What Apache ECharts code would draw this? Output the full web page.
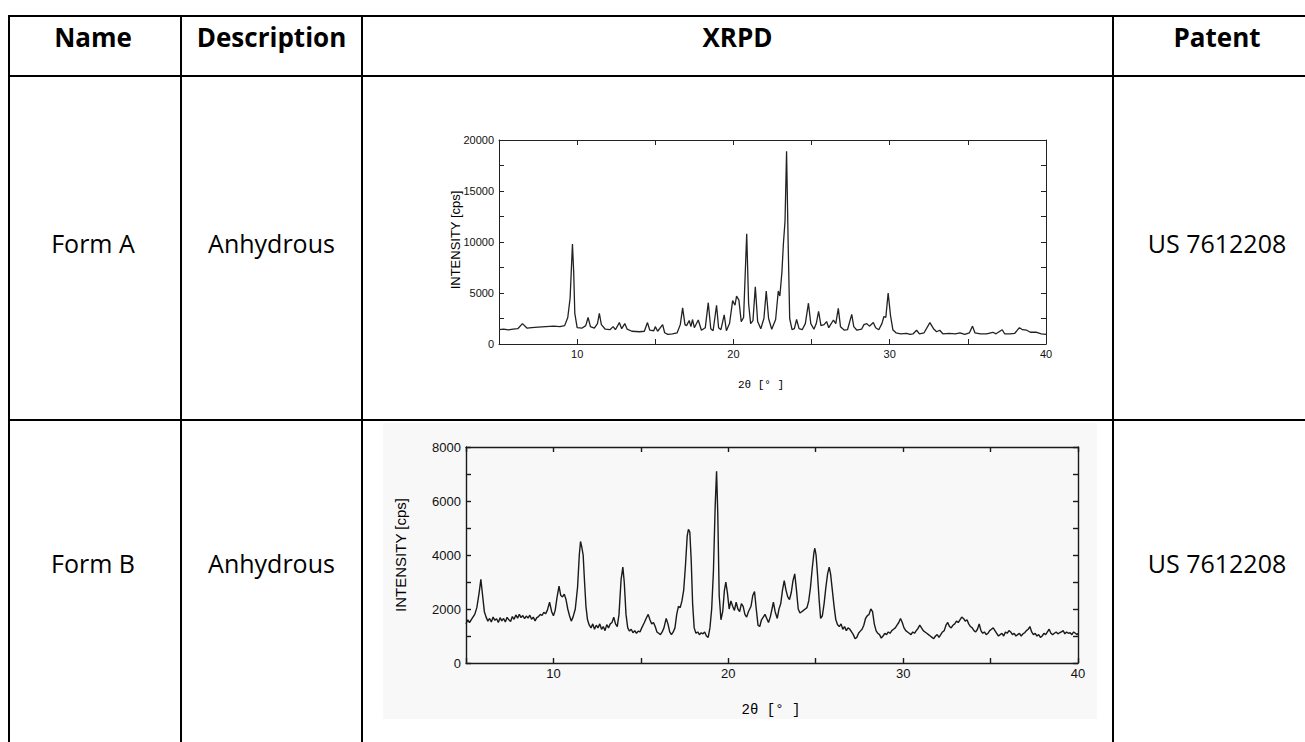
<!DOCTYPE html>
<html>
<head>
<meta charset="utf-8">
<style>
  html, body { margin: 0; padding: 0; background: #fff; }
  #chart { width: 1305px; height: 742px; }
</style>
<script src="https://cdn.jsdelivr.net/npm/echarts@6/dist/echarts.min.js"></script>
</head>
<body>
<div id="chart"></div>
<script>
// table content
const headers = ['Name', 'Description', 'XRPD', 'Patent']
const formNames = ['Form A', 'Form B']
const descriptions = ['Anhydrous', 'Anhydrous']
const patents = ['US 7612208', 'US 7612208']

// tick labels of the two scans
const twoThetaTicks = [10, 20, 30, 40]
const formAIntensityTicks = [0, 5000, 10000, 15000, 20000]
const formBIntensityTicks = [0, 2000, 4000, 6000, 8000]

// Form A pattern, [2theta, cps]
const formA = [
  [5.0, 1400], [5.3, 1450], [5.6, 1380], [5.9, 1450], [6.2, 1500], [6.5, 2000], [6.8, 1550],
  [7.1, 1600], [7.5, 1650], [8.0, 1700], [8.5, 1750], [8.9, 1700], [9.2, 1800], [9.4, 2600],
  [9.55, 4500], [9.7, 9800], [9.78, 7000], [9.85, 3000], [10.0, 1600], [10.3, 1550], [10.55, 1800],
  [10.7, 2600], [10.85, 1700], [11.1, 1550], [11.3, 2000], [11.42, 3000], [11.55, 1900], [11.8, 1450],
  [12.1, 1400], [12.3, 1700], [12.45, 1400], [12.7, 2100], [12.85, 1500], [13.05, 2000], [13.2, 1450],
  [13.5, 1250], [14.0, 1200], [14.3, 1250], [14.5, 2100], [14.65, 1350], [14.9, 1300], [15.0, 1700],
  [15.15, 1250], [15.47, 1900], [15.6, 1100], [15.8, 950], [16.1, 1000], [16.4, 1100], [16.6, 1900],
  [16.75, 3550], [16.9, 1900], [17.0, 1800], [17.17, 2300], [17.28, 1700], [17.38, 2400], [17.5, 1600],
  [17.75, 2350], [17.95, 1350], [18.2, 1600], [18.39, 4050], [18.55, 1500], [18.7, 1300], [18.92, 3800],
  [19.05, 1600], [19.2, 1400], [19.41, 2850], [19.55, 1300], [19.75, 2000], [19.95, 4250], [20.1, 3800],
  [20.2, 4700], [20.35, 4300], [20.5, 2200], [20.65, 2600], [20.85, 10800], [20.97, 4000], [21.1, 2000],
  [21.25, 2300], [21.4, 5600], [21.55, 2200], [21.75, 1500], [21.95, 2500], [22.1, 5200], [22.25, 2500],
  [22.45, 1450], [22.7, 2400], [22.87, 5200], [22.97, 4700], [23.1, 7000], [23.2, 9900], [23.3, 12000],
  [23.4, 18900], [23.5, 10000], [23.6, 2500], [23.75, 1400], [23.9, 1500], [24.04, 2400], [24.2, 1500],
  [24.4, 1400], [24.6, 2000], [24.8, 4000], [24.95, 2000], [25.15, 1450], [25.3, 2000], [25.45, 3200],
  [25.6, 1800], [25.8, 1900], [25.96, 2200], [26.1, 1600], [26.4, 2350], [26.55, 2000], [26.71, 3500],
  [26.85, 1700], [27.1, 1350], [27.3, 1400], [27.57, 2900], [27.7, 1700], [27.9, 1350], [28.2, 1450],
  [28.35, 1900], [28.53, 2000], [28.7, 1750], [28.95, 2100], [29.1, 1600], [29.3, 1400], [29.5, 2000],
  [29.63, 2700], [29.75, 2600], [29.9, 5000], [30.05, 2800], [30.2, 1400], [30.4, 1100], [30.7, 1000],
  [31.08, 1050], [31.3, 950], [31.5, 1000], [31.72, 1350], [31.9, 1000], [32.2, 1100], [32.57, 2100],
  [32.8, 1500], [33.0, 1200], [33.2, 1350], [33.4, 1000], [33.8, 1050], [34.2, 1000], [34.5, 1100],
  [34.8, 950], [35.1, 1100], [35.3, 1750], [35.45, 1100], [35.8, 1000], [36.2, 1000], [36.6, 1150],
  [36.8, 1000], [37.2, 1400], [37.35, 1000], [37.7, 1000], [38.0, 1050], [38.3, 1600], [38.5, 1400],
  [38.76, 1350], [39.0, 1150], [39.4, 1150], [39.7, 1000], [40.0, 950]
]

// Form B pattern, [2theta, cps]
const formB = [
  [5.0, 1450], [5.1, 1600], [5.2, 1500], [5.35, 1650], [5.5, 1800], [5.62, 2050], [5.75, 2600],
  [5.85, 3100], [5.95, 2500], [6.05, 1900], [6.15, 1700], [6.25, 1550], [6.35, 1650], [6.45, 1520],
  [6.55, 1700], [6.65, 1580], [6.75, 1640], [6.85, 1500], [6.95, 1680], [7.05, 1560], [7.15, 1650],
  [7.25, 1520], [7.35, 1690], [7.45, 1600], [7.55, 1540], [7.65, 1720], [7.75, 1620], [7.85, 1780],
  [7.95, 1660], [8.05, 1800], [8.15, 1680], [8.25, 1760], [8.35, 1640], [8.45, 1740], [8.55, 1660],
  [8.65, 1770], [8.75, 1620], [8.85, 1700], [8.95, 1560], [9.05, 1680], [9.15, 1720], [9.25, 1800],
  [9.35, 1760], [9.45, 1880], [9.55, 1820], [9.65, 1950], [9.78, 2250], [9.9, 1900], [10.0, 1750],
  [10.1, 1950], [10.2, 2400], [10.32, 2850], [10.42, 2500], [10.52, 2450], [10.62, 2550], [10.72, 2350],
  [10.82, 2000], [10.92, 1750], [11.02, 1550], [11.12, 1700], [11.25, 2000], [11.38, 2800], [11.48, 4000],
  [11.55, 4500], [11.62, 4300], [11.7, 4000], [11.78, 3000], [11.86, 2100], [11.95, 1600], [12.05, 1400],
  [12.15, 1300], [12.25, 1450], [12.35, 1250], [12.45, 1400], [12.55, 1300], [12.65, 1450], [12.75, 1250],
  [12.85, 1350], [12.95, 1200], [13.05, 1420], [13.15, 1300], [13.25, 1450], [13.35, 1500], [13.45, 1700],
  [13.55, 1450], [13.65, 1350], [13.75, 1800], [13.87, 3100], [13.97, 3550], [14.05, 3000], [14.15, 1800],
  [14.25, 1300], [14.35, 1180], [14.45, 1250], [14.55, 1120], [14.65, 1200], [14.75, 1100], [14.85, 1180],
  [14.95, 1150], [15.05, 1300], [15.2, 1500], [15.3, 1650], [15.42, 1800], [15.52, 1600], [15.62, 1450],
  [15.72, 1500], [15.82, 1350], [15.92, 1150], [16.02, 1100], [16.12, 1050], [16.22, 1150], [16.32, 1300],
  [16.45, 1650], [16.55, 1450], [16.65, 1150], [16.75, 1050], [16.85, 1150], [16.95, 1300], [17.05, 1800],
  [17.15, 2100], [17.25, 2050], [17.35, 2300], [17.45, 2700], [17.55, 3600], [17.65, 4700], [17.72, 4950],
  [17.8, 4850], [17.88, 3800], [17.96, 2200], [18.05, 1300], [18.15, 1100], [18.25, 1150], [18.35, 1050],
  [18.45, 1120], [18.55, 1080], [18.65, 1150], [18.75, 1000], [18.85, 950], [18.95, 1300], [19.05, 2000],
  [19.15, 3400], [19.25, 5800], [19.33, 7100], [19.4, 5500], [19.48, 2500], [19.58, 1600], [19.68, 1900],
  [19.78, 2700], [19.86, 3000], [19.95, 2600], [20.05, 2000], [20.15, 2300], [20.25, 2100], [20.35, 1950],
  [20.45, 2250], [20.55, 2000], [20.65, 1900], [20.75, 2200], [20.85, 2100], [20.95, 1800], [21.05, 1700],
  [21.15, 1900], [21.3, 2100], [21.4, 2500], [21.5, 2650], [21.6, 2000], [21.7, 1400], [21.8, 1350],
  [21.9, 1600], [22.0, 1700], [22.1, 1800], [22.2, 1650], [22.3, 1500], [22.4, 1700], [22.5, 2000],
  [22.58, 2250], [22.68, 1900], [22.8, 1650], [22.9, 2000], [23.0, 2200], [23.1, 2700], [23.2, 3050],
  [23.3, 2700], [23.4, 2450], [23.5, 2350], [23.6, 2600], [23.7, 3050], [23.8, 3300], [23.9, 2700],
  [24.0, 2000], [24.1, 1850], [24.2, 1900], [24.3, 1950], [24.4, 2000], [24.5, 2050], [24.6, 2300],
  [24.7, 2800], [24.8, 3500], [24.9, 4100], [24.95, 4250], [25.02, 4000], [25.1, 3300], [25.2, 2300],
  [25.28, 1650], [25.38, 1750], [25.48, 2200], [25.58, 2800], [25.68, 3300], [25.77, 3550], [25.85, 3300],
  [25.95, 2700], [26.05, 2100], [26.15, 1600], [26.25, 1420], [26.35, 1350], [26.45, 1450], [26.55, 1250],
  [26.65, 1350], [26.75, 1200], [26.85, 1300], [26.95, 1250], [27.05, 1150], [27.15, 1050], [27.25, 900],
  [27.35, 950], [27.45, 1100], [27.55, 1180], [27.65, 1250], [27.75, 1400], [27.85, 1650], [27.95, 1750],
  [28.05, 1800], [28.15, 2000], [28.25, 1900], [28.35, 1450], [28.45, 1200], [28.55, 1100], [28.65, 1050],
  [28.75, 920], [28.85, 1000], [28.95, 1100], [29.05, 1050], [29.15, 1150], [29.25, 1100], [29.35, 1200],
  [29.45, 1250], [29.55, 1300], [29.65, 1400], [29.75, 1500], [29.85, 1650], [29.95, 1500], [30.05, 1300],
  [30.15, 1200], [30.25, 1150], [30.35, 1100], [30.45, 1050], [30.55, 1150], [30.65, 1100], [30.75, 1200],
  [30.85, 1280], [30.95, 1400], [31.05, 1300], [31.15, 1200], [31.25, 1150], [31.35, 1100], [31.45, 1050],
  [31.55, 1000], [31.65, 950], [31.75, 900], [31.85, 1000], [31.95, 1050], [32.05, 950], [32.15, 1050],
  [32.25, 1150], [32.35, 1200], [32.45, 1400], [32.55, 1500], [32.65, 1350], [32.75, 1300], [32.85, 1400],
  [32.95, 1450], [33.05, 1550], [33.15, 1500], [33.25, 1600], [33.35, 1700], [33.45, 1650], [33.55, 1550],
  [33.65, 1600], [33.75, 1450], [33.85, 1350], [33.95, 1300], [34.05, 1200], [34.15, 1150], [34.25, 1250],
  [34.35, 1450], [34.45, 1200], [34.55, 1100], [34.65, 1150], [34.75, 1050], [34.85, 1100], [34.95, 1200],
  [35.05, 1250], [35.15, 1300], [35.25, 1200], [35.35, 1100], [35.45, 1000], [35.55, 1050], [35.65, 1100],
  [35.75, 1000], [35.85, 1150], [35.95, 1100], [36.05, 1200], [36.15, 1150], [36.25, 1050], [36.35, 1100],
  [36.45, 1000], [36.55, 1050], [36.65, 1100], [36.75, 1000], [36.85, 1080], [36.95, 1120], [37.05, 1200],
  [37.15, 1250], [37.25, 1350], [37.35, 1150], [37.45, 1050], [37.55, 1100], [37.65, 1000], [37.75, 1050],
  [37.85, 950], [37.95, 1000], [38.05, 1100], [38.15, 1050], [38.25, 1150], [38.35, 1250], [38.45, 1100],
  [38.55, 1050], [38.65, 1100], [38.75, 1150], [38.85, 1080], [38.95, 1120], [39.05, 1150], [39.15, 1200],
  [39.25, 1080], [39.35, 1150], [39.45, 1100], [39.55, 1120], [39.65, 1050], [39.75, 1150], [39.85, 1100],
  [39.95, 1050], [40.0, 1100]
]

// table geometry
const ruleX = [9, 181, 362, 1113]
const ruleY = [16, 76, 420]
const cellCenterX = [93, 271.5, 737.5, 1217]
const headerY = 37
const rowTextY = [243, 563]

const tableFont = '"Open Sans", "Noto Sans", sans-serif'
const labelFont = '"Liberation Sans", Arial, sans-serif'
const monoFont = '"Liberation Mono", "DejaVu Sans Mono", monospace'

function axesFor(gridIndex, yMax, yStep, yLabels, fontSize, color, width) {
  const tick = {show: true, inside: true, length: 5, lineStyle: {color: color, width: width}}
  const line = {show: true, onZero: false, lineStyle: {color: color, width: width}}
  const xBase = {
    type: 'value', gridIndex: gridIndex, min: 5, max: 40, interval: 5,
    axisLine: line, axisTick: tick, splitLine: {show: false}
  }
  const yBase = {
    type: 'value', gridIndex: gridIndex, min: 0, max: yMax, interval: yStep,
    axisLine: line, axisTick: tick, splitLine: {show: false}
  }
  return {
    xAxis: [
      {
        ...xBase, position: 'bottom',
        axisLabel: {
          formatter: v => twoThetaTicks.includes(v) ? String(v) : '',
          color: '#111', fontSize: fontSize, fontFamily: labelFont, margin: 4
        }
      },
      {...xBase, position: 'top', axisLabel: {show: false}}
    ],
    yAxis: [
      {
        ...yBase, position: 'left',
        axisLabel: {
          formatter: v => yLabels.includes(v) ? String(v) : '',
          color: '#111', fontSize: fontSize, fontFamily: labelFont, margin: 5
        }
      },
      {...yBase, position: 'right', axisLabel: {show: false}}
    ]
  }
}

function text(str, x, y, font, extra) {
  return {
    type: 'text', x: x, y: y, silent: true,
    style: {text: str, font: font, fill: '#000', textAlign: 'center', textVerticalAlign: 'middle'},
    ...extra
  }
}

const chart = echarts.init(document.getElementById('chart'), null, {renderer: 'svg'})

const axesA = axesFor(0, 20000, 2500, formAIntensityTicks, 11, '#222', 1)
const axesB = axesFor(1, 8000, 1000, formBIntensityTicks, 13, '#1a1a1a', 1.4)

const graphics = []
// scanned paper of the Form B figure
graphics.push({
  type: 'rect', z: -10, silent: true,
  shape: {x: 383, y: 423, width: 714, height: 296},
  style: {fill: '#f8f8f8'}
})
ruleX.forEach(x => graphics.push({
  type: 'line', silent: true,
  shape: {x1: x, y1: ruleY[0] - 1, x2: x, y2: 742},
  style: {stroke: '#000', lineWidth: 2}
}))
ruleY.forEach(y => graphics.push({
  type: 'line', silent: true,
  shape: {x1: ruleX[0] - 1, y1: y, x2: 1305, y2: y},
  style: {stroke: '#000', lineWidth: 2}
}))
headers.forEach((h, i) => graphics.push(text(h, cellCenterX[i], headerY, 'bold 26px ' + tableFont)))
formNames.forEach((name, r) => {
  graphics.push(text(name, cellCenterX[0], rowTextY[r], '25px ' + tableFont))
  graphics.push(text(descriptions[r], cellCenterX[1], rowTextY[r], '25px ' + tableFont))
  graphics.push(text(patents[r], cellCenterX[3], rowTextY[r], '25px ' + tableFont))
})
// axis names
graphics.push(text('INTENSITY [cps]', 455, 240, '13px ' + labelFont, {rotation: Math.PI / 2}))
graphics.push(text('2\u03b8 [\u00b0 ]', 761, 385, '11px ' + monoFont))
graphics.push(text('INTENSITY [cps]', 400, 555, '15px ' + labelFont, {rotation: Math.PI / 2}))
graphics.push(text('2\u03b8 [\u00b0 ]', 771, 710, '14px ' + monoFont))

chart.setOption({
  animation: false,
  backgroundColor: '#fff',
  grid: [
    {left: 499, top: 140, width: 547, height: 204, outerBoundsMode: 'none'},
    {left: 466, top: 447, width: 612, height: 216, outerBoundsMode: 'none'}
  ],
  xAxis: [...axesA.xAxis, ...axesB.xAxis],
  yAxis: [...axesA.yAxis, ...axesB.yAxis],
  series: [
    {
      name: 'Form A', type: 'line', xAxisIndex: 0, yAxisIndex: 0, data: formA,
      showSymbol: false, lineStyle: {color: '#222', width: 1.3}
    },
    {
      name: 'Form B', type: 'line', xAxisIndex: 2, yAxisIndex: 2, data: formB,
      showSymbol: false, lineStyle: {color: '#1a1a1a', width: 1.4}
    }
  ],
  graphic: graphics
})
</script>
</body>
</html>
